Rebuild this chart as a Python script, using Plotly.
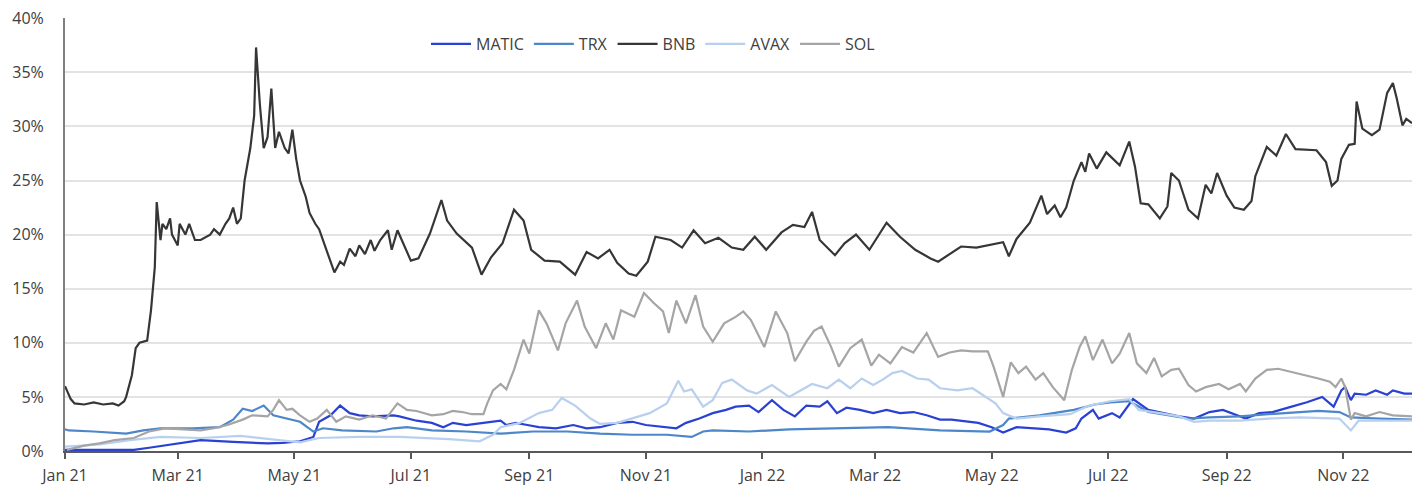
import pandas as pd
import plotly.graph_objects as go

START = "2021-01-01"
END_DAY = 705

TICK_DATES = ["2021-01-01", "2021-03-01", "2021-05-01", "2021-07-01", "2021-09-01", "2021-11-01",
              "2022-01-01", "2022-03-01", "2022-05-01", "2022-07-01", "2022-09-01", "2022-11-01"]
TICK_LABELS = ["Jan 21", "Mar 21", "May 21", "Jul 21", "Sep 21", "Nov 21",
               "Jan 22", "Mar 22", "May 22", "Jul 22", "Sep 22", "Nov 22"]
Y_TICKS = [0, 5, 10, 15, 20, 25, 30, 35, 40]
Y_LABELS = ["0%", "5%", "10%", "15%", "20%", "25%", "30%", "35%", "40%"]

# day offsets from 2021-01-01 and share (%) values
MATIC_DAYS = [0, 18, 36, 44, 53, 71, 88, 106, 114, 123, 130, 133, 139, 144, 149, 154, 161, 172, 175, 184,
              192, 198, 203, 210, 219, 228, 231, 236, 242, 248, 257, 266, 273, 280, 289, 297, 304, 313, 320,
              325, 332, 339, 346, 351, 358, 363, 370, 376, 382, 388, 395, 399, 404, 409, 416, 423, 430, 437,
              444, 451, 458, 464, 472, 478, 485, 491, 498, 506, 515, 524, 529, 532, 538, 541, 548, 552, 559,
              567, 575, 583, 591, 599, 606, 618, 625, 632, 642, 650, 658, 664, 668, 670, 673, 675, 681, 686,
              692, 695, 701, 705]
MATIC_VALS = [0.1, 0.1, 0.1, 0.3, 0.55, 1.0, 0.85, 0.7, 0.75, 0.9, 1.3, 2.7, 3.3, 4.2, 3.5, 3.3, 3.2, 3.3, 3.2, 2.8,
              2.6, 2.2, 2.6, 2.4, 2.6, 2.8, 2.4, 2.6, 2.4, 2.2, 2.1, 2.4, 2.1, 2.2, 2.6, 2.7, 2.4, 2.2, 2.1,
              2.6, 3.0, 3.5, 3.8, 4.1, 4.2, 3.6, 4.7, 3.8, 3.2, 4.2, 4.1, 4.6, 3.5, 4.0, 3.8, 3.5, 3.8, 3.5,
              3.6, 3.3, 2.9, 2.9, 2.7, 2.6, 2.2, 1.7, 2.2, 2.1, 2.0, 1.7, 2.1, 3.0, 3.8, 3.0, 3.5, 3.1, 4.8,
              3.8, 3.5, 3.2, 3.0, 3.6, 3.8, 3.0, 3.5, 3.6, 4.1, 4.5, 5.0, 4.1, 5.6, 5.9, 4.7, 5.3, 5.2, 5.6,
              5.2, 5.6, 5.3, 5.3]

TRX_DAYS = [0, 2, 15, 32, 41, 50, 67, 81, 88, 93, 98, 104, 109, 116, 123, 130, 135, 145, 163, 172, 179,
            192, 210, 228, 245, 263, 280, 297, 315, 328, 334, 339, 358, 379, 405, 431, 458, 484, 491, 494,
            510, 528, 539, 547, 557, 567, 578, 588, 599, 615, 630, 646, 656, 667, 673, 688, 705]
TRX_VALS = [2.0, 1.9, 1.8, 1.6, 1.9, 2.1, 2.1, 2.2, 2.9, 3.9, 3.7, 4.2, 3.3, 3.0, 2.7, 1.8, 2.1, 1.9, 1.8, 2.1, 2.2,
            1.9, 1.8, 1.6, 1.8, 1.8, 1.6, 1.5, 1.5, 1.3, 1.8, 1.9, 1.8, 2.0, 2.1, 2.2, 1.9, 1.8, 2.4, 3.0,
            3.3, 3.8, 4.3, 4.5, 4.6, 3.6, 3.3, 3.0, 3.1, 3.2, 3.4, 3.6, 3.7, 3.6, 3.1, 3.0, 2.9]

BNB_DAYS = [0, 3, 5, 10, 15, 20, 25, 28, 31, 32, 35, 37, 39, 43, 45, 47, 48, 50, 51, 53, 55, 56, 59, 60, 63,
            65, 68, 71, 76, 78, 81, 84, 86, 88, 90, 92, 94, 97, 99, 100, 102, 104, 106, 108, 110, 112, 115,
            117, 119, 121, 123, 126, 128, 131, 133, 136, 139, 141, 144, 146, 149, 152, 154, 157, 160, 162,
            165, 169, 171, 174, 181, 185, 191, 197, 200, 205, 213, 218, 223, 229, 235, 240, 244, 251, 259,
            267, 273, 279, 285, 289, 295, 299, 305, 309, 317, 323, 329, 335, 342, 349, 355, 361, 367, 375,
            381, 387, 391, 395, 403, 408, 414, 421, 430, 437, 445, 453, 457, 463, 469, 477, 482, 491, 494,
            498, 505, 511, 514, 518, 521, 524, 528, 532, 534, 536, 540, 545, 552, 557, 560, 563, 567, 573,
            577, 579, 583, 588, 593, 597, 600, 603, 608, 612, 617, 621, 623, 629, 634, 639, 644, 655, 660,
            663, 666, 668, 672, 675, 676, 679, 684, 688, 692, 695, 697, 700, 702, 705]
BNB_VALS = [6.0, 4.8, 4.4, 4.3, 4.5, 4.3, 4.4, 4.2, 4.6, 5.0, 7.0, 9.5, 10.0, 10.2, 13.0, 17.0, 23.0, 19.5, 21.0,
            20.5, 21.5, 20.0, 19.0, 21.0, 20.0, 21.0, 19.5, 19.5, 20.0, 20.5, 20.0, 21.0, 21.5, 22.5, 21.0,
            21.5, 25.0, 28.0, 31.0, 37.3, 32.0, 28.0, 29.0, 33.5, 28.0, 29.5, 28.0, 27.5, 29.7, 27.0, 25.0,
            23.5, 22.0, 21.0, 20.5, 19.0, 17.5, 16.5, 17.5, 17.2, 18.7, 18.0, 19.0, 18.2, 19.5, 18.5, 19.5,
            20.4, 18.6, 20.4, 17.6, 17.8, 20.1, 23.2, 21.3, 20.1, 18.8, 16.3, 17.9, 19.2, 22.3, 21.3, 18.6,
            17.6, 17.5, 16.3, 18.4, 17.8, 18.6, 17.4, 16.4, 16.2, 17.5, 19.8, 19.5, 18.8, 20.4, 19.2, 19.7,
            18.8, 18.6, 19.8, 18.6, 20.2, 20.9, 20.7, 22.1, 19.5, 18.1, 19.2, 20.0, 18.6, 21.1, 19.8, 18.6,
            17.8, 17.5, 18.2, 18.9, 18.8, 19.0, 19.3, 18.0, 19.6, 21.1, 23.6, 21.9, 22.7, 21.6, 22.5, 25.0,
            26.7, 25.8, 27.5, 26.1, 27.6, 26.4, 28.6, 26.3, 22.9, 22.8, 21.5, 22.6, 25.7, 25.0, 22.3, 21.5,
            24.6, 23.8, 25.7, 23.6, 22.5, 22.3, 23.1, 25.4, 28.1, 27.3, 29.3, 27.9, 27.8, 26.7, 24.5, 25.0,
            27.0, 28.3, 28.4, 32.3, 29.8, 29.2, 29.7, 33.1, 34.0, 32.6, 30.1, 30.7, 30.3]

AVAX_DAYS = [0, 18, 34, 50, 71, 92, 112, 123, 133, 154, 175, 201, 217, 224, 228, 238, 248, 255, 260, 267, 275,
             280, 289, 297, 306, 315, 321, 324, 328, 334, 339, 344, 349, 357, 362, 370, 379, 384, 391, 399,
             405, 411, 417, 423, 428, 433, 438, 446, 452, 458, 467, 475, 482, 487, 491, 498, 510, 526, 536,
             547, 557, 562, 573, 583, 591, 599, 615, 630, 646, 667, 673, 677, 705]
AVAX_VALS = [0.4, 0.6, 1.0, 1.3, 1.2, 1.4, 1.0, 0.8, 1.2, 1.3, 1.3, 1.1, 0.9, 1.5, 2.2, 2.6, 3.5, 3.8, 4.9, 4.2, 3.0,
             2.5, 2.6, 3.0, 3.5, 4.4, 6.5, 5.5, 5.7, 4.1, 4.7, 6.3, 6.6, 5.6, 5.3, 6.1, 5.0, 5.5, 6.2, 5.8,
             6.6, 5.8, 6.7, 6.1, 6.6, 7.2, 7.4, 6.7, 6.6, 5.8, 5.6, 5.8, 5.0, 4.4, 3.5, 3.0, 3.2, 3.4, 4.2,
             4.6, 4.8, 3.8, 3.5, 3.2, 2.7, 2.8, 2.8, 3.0, 3.1, 3.0, 1.9, 2.8, 2.8]

SOL_DAYS = [1, 10, 18, 26, 36, 44, 53, 63, 71, 78, 85, 93, 98, 106, 109, 112, 116, 119, 123, 128, 132, 137,
            142, 147, 154, 161, 168, 174, 179, 184, 192, 198, 203, 208, 213, 219, 221, 224, 228, 231, 235,
            240, 243, 248, 252, 258, 262, 268, 272, 278, 283, 287, 291, 298, 303, 308, 313, 316, 320, 325,
            330, 334, 339, 345, 351, 355, 359, 366, 372, 378, 382, 388, 392, 396, 401, 405, 411, 417, 422,
            426, 432, 438, 444, 451, 457, 463, 469, 475, 483, 486, 491, 495, 499, 503, 508, 512, 517, 523,
            527, 531, 534, 538, 543, 548, 552, 557, 561, 566, 570, 574, 579, 583, 588, 592, 597, 604, 609,
            615, 618, 623, 629, 635, 642, 650, 656, 662, 665, 668, 670, 673, 675, 681, 688, 695, 705]
SOL_VALS = [0.1, 0.5, 0.7, 1.0, 1.2, 1.8, 2.1, 2.0, 1.9, 2.1, 2.4, 2.9, 3.3, 3.2, 3.8, 4.7, 3.8, 3.9, 3.3, 2.7,
            3.0, 3.8, 2.7, 3.2, 2.9, 3.3, 3.0, 4.4, 3.8, 3.7, 3.3, 3.4, 3.7, 3.6, 3.4, 3.4, 4.4, 5.6, 6.2,
            5.7, 7.5, 10.3, 9.0, 13.0, 11.8, 9.3, 11.8, 13.9, 11.5, 9.5, 11.8, 10.3, 13.0, 12.4, 14.6, 13.7,
            12.9, 10.9, 13.9, 11.8, 14.4, 11.5, 10.1, 11.8, 12.4, 12.9, 12.1, 9.6, 12.9, 10.9, 8.3, 10.1,
            11.1, 11.5, 9.6, 7.8, 9.5, 10.3, 7.9, 8.9, 8.1, 9.6, 9.1, 10.9, 8.7, 9.1, 9.3, 9.2, 9.2, 7.8,
            5.0, 8.2, 7.2, 7.8, 6.6, 7.2, 5.9, 4.7, 7.5, 9.6, 10.6, 8.4, 10.3, 8.1, 9.0, 10.9, 8.1, 7.2,
            8.6, 6.9, 7.5, 7.6, 6.1, 5.5, 5.9, 6.2, 5.7, 6.2, 5.5, 6.7, 7.5, 7.6, 7.3, 7.0, 6.7, 6.4, 5.9,
            6.7, 5.9, 2.9, 3.5, 3.2, 3.6, 3.3, 3.2]

SERIES = [
    ("MATIC", MATIC_DAYS, MATIC_VALS, "#2a41d2"),
    ("TRX", TRX_DAYS, TRX_VALS, "#4d86c9"),
    ("BNB", BNB_DAYS, BNB_VALS, "#363636"),
    ("AVAX", AVAX_DAYS, AVAX_VALS, "#b8d0ee"),
    ("SOL", SOL_DAYS, SOL_VALS, "#a5a5a5"),
]

start = pd.Timestamp(START)


def to_dates(days):
    return [start + pd.Timedelta(days=d) for d in days]


fig = go.Figure()
for name, days, vals, color in SERIES:
    fig.add_trace(go.Scatter(
        x=to_dates(days), y=vals, name=name, mode="lines",
        line=dict(color=color, width=2.2),
    ))

font_family = "'Open Sans', Lato, sans-serif"

fig.update_layout(
    width=1422, height=492,
    margin=dict(l=65, r=10, t=18, b=41, autoexpand=False),
    paper_bgcolor="white", plot_bgcolor="white",
    font=dict(family=font_family, size=15, color="#404040"),
    showlegend=True,
    legend=dict(
        orientation="h", x=0.268, xanchor="left", y=0.94, yanchor="middle",
        font=dict(size=16, color="#404040"), bgcolor="rgba(0,0,0,0)",
        itemwidth=40, tracegroupgap=0,
    ),
)

fig.update_xaxes(
    type="date", automargin=False,
    range=[start, start + pd.Timedelta(days=END_DAY)],
    tickmode="array", tickvals=TICK_DATES, ticktext=TICK_LABELS,
    showgrid=False, zeroline=False,
    showline=True, linecolor="#595959", linewidth=1.5,
    ticks="outside", ticklen=6, tickcolor="#595959", tickwidth=1.5,
    ticklabelstandoff=3,
    tickfont=dict(size=16, color="#404040"),
)

fig.update_yaxes(
    range=[0, 40.02], automargin=False,
    tickmode="array", tickvals=Y_TICKS, ticktext=Y_LABELS,
    showgrid=True, gridcolor="#e3e3e3", gridwidth=1.5,
    zeroline=False,
    showline=True, linecolor="#808080", linewidth=2,
    ticks="", ticklabelstandoff=16,
    tickfont=dict(size=16, color="#404040"),
)

# remove the page's default 8px body margin so the figure fills the window
fig.write_html("out.html", config={"displayModeBar": False},
               post_script="document.body.style.margin='0';")
